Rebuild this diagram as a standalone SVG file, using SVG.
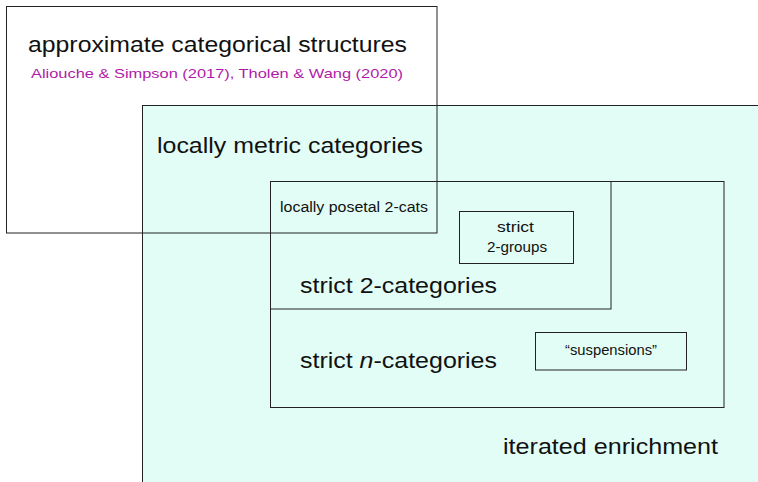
<svg xmlns="http://www.w3.org/2000/svg" width="758" height="482" viewBox="0 0 758 482">
<style>
.box{fill:none;stroke:#222;stroke-width:1}
.big{font-family:"Liberation Sans",Arial,sans-serif;font-size:22px;fill:#111}
.small{font-family:"Liberation Sans",Arial,sans-serif;font-size:14px;fill:#111}
.cite{font-family:"Liberation Sans",Arial,sans-serif;font-size:13.5px;fill:#b01aa8}
</style>
<rect width="758" height="482" fill="#fff"/>
<g id="iterated-enrichment">
<rect x="142.5" y="105.5" width="620" height="390" fill="#e2fdf5" stroke="#222" stroke-width="1"/>
<text class="big" x="503" y="454" textLength="215" lengthAdjust="spacingAndGlyphs">iterated enrichment</text>
</g>
<g id="approximate">
<rect class="box" x="6.5" y="6.5" width="430.5" height="226.5"/>
<text class="big" x="28" y="52" textLength="379" lengthAdjust="spacingAndGlyphs">approximate categorical structures</text>
<text class="cite" x="31" y="78" textLength="372" lengthAdjust="spacingAndGlyphs">Aliouche &amp; Simpson (2017), Tholen &amp; Wang (2020)</text>
</g>
<g id="locally-metric">
<text class="big" x="157" y="153" textLength="266" lengthAdjust="spacingAndGlyphs">locally metric categories</text>
</g>
<g id="strict-n-categories">
<rect class="box" x="270.5" y="181.5" width="453.5" height="226"/>
<text class="big" x="300" y="368" textLength="197" lengthAdjust="spacingAndGlyphs">strict <tspan font-style="italic">n</tspan>-categories</text>
</g>
<g id="strict-2-categories">
<rect class="box" x="270.5" y="181.5" width="340.5" height="127.5"/>
<text class="big" x="300" y="293" textLength="197" lengthAdjust="spacingAndGlyphs">strict 2-categories</text>
</g>
<g id="locally-posetal">
<text class="small" x="280" y="212" textLength="148" lengthAdjust="spacingAndGlyphs">locally posetal 2-cats</text>
</g>
<g id="strict-2-groups">
<rect class="box" x="459.5" y="211.5" width="114" height="52"/>
<text class="small" x="497" y="232" textLength="37" lengthAdjust="spacingAndGlyphs">strict</text>
<text class="small" x="487" y="252" textLength="60" lengthAdjust="spacingAndGlyphs">2-groups</text>
</g>
<g id="suspensions">
<rect class="box" x="535.5" y="332.5" width="151" height="37.5"/>
<text class="small" x="565" y="355" textLength="92" lengthAdjust="spacingAndGlyphs">“suspensions”</text>
</g>
<g id="connectors"/>
</svg>
